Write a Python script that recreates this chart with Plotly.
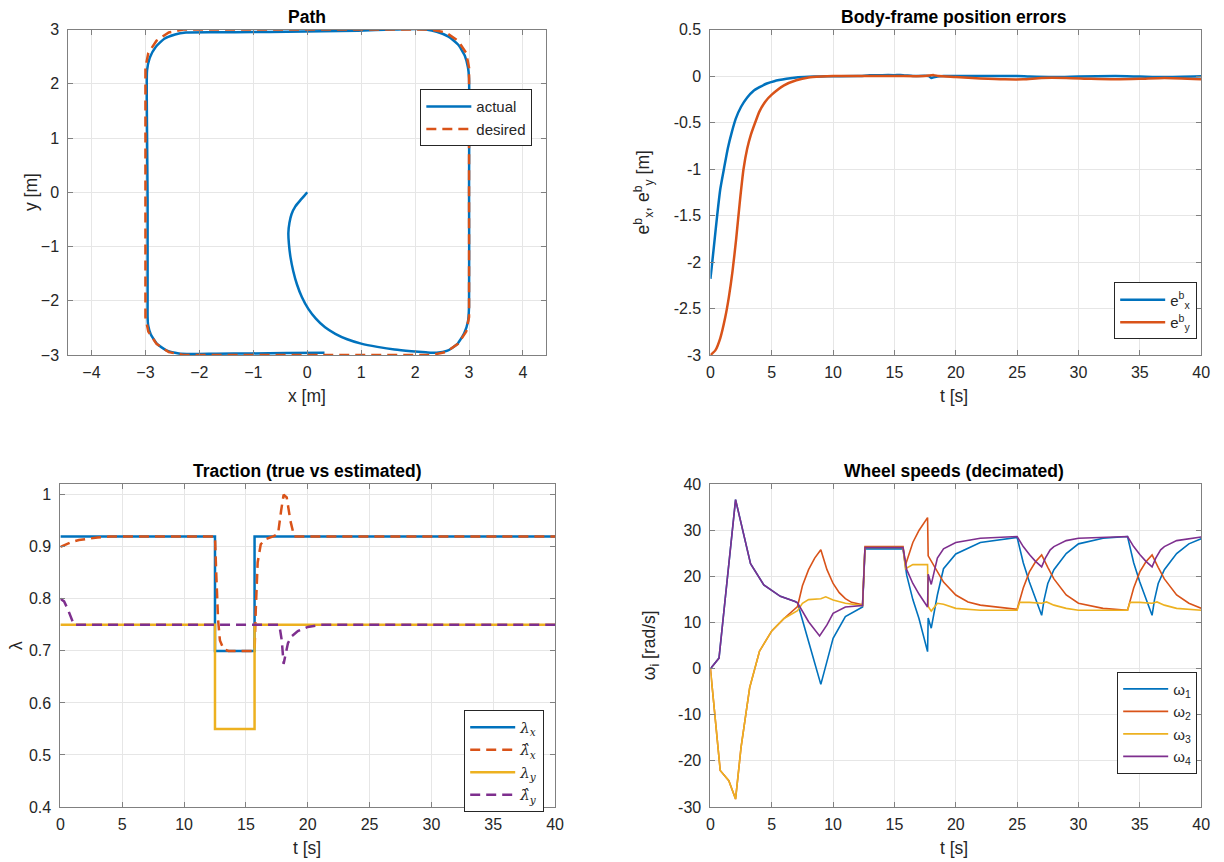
import plotly.graph_objects as go

# ---------------- data ----------------
# Path (actual)
path_act_x = [0.0, -0.06, -0.13, -0.22, -0.29, -0.33, -0.35, -0.34, -0.31, -0.26, -0.19, -0.10, 0.02, 0.16,
              0.33, 0.52, 0.74, 1.0, 1.3, 1.62, 1.93, 2.2, 2.4, 2.6, 2.78, 2.91, 2.98, 3.0, 3.0, 3.0, 2.98,
              2.92, 2.8, 2.62, 2.4, 2.2, 2.03, 1.6, 0.94, 0.28, -0.38, -1.0, -1.69, -2.25, -2.45, -2.65,
              -2.81, -2.92, -2.97, -2.97, -2.96, -2.96, -2.96, -2.96, -2.95, -2.9, -2.78, -2.6, -2.38,
              -2.15, -1.69, -1.03, -0.38, 0.32]
path_act_y = [0.0, -0.07, -0.15, -0.26, -0.4, -0.56, -0.75, -0.95, -1.2, -1.45, -1.7, -1.93, -2.15, -2.33,
              -2.49, -2.61, -2.71, -2.79, -2.85, -2.9, -2.93, -2.95, -2.96, -2.92, -2.8, -2.6, -2.38, -2.1,
              0.0, 2.1, 2.3, 2.52, 2.72, 2.87, 2.96, 3.0, 3.01, 3.0, 2.98, 2.97, 2.96, 2.955, 2.95, 2.945,
              2.91, 2.83, 2.68, 2.48, 2.25, 1.08, -0.15, -1.0, -2.0, -2.3, -2.45, -2.62, -2.8, -2.92,
              -2.97, -2.98, -2.975, -2.97, -2.965, -2.96]
# Path (desired)
path_des_x = [0.0, 2.3, 2.568, 2.795, 2.947, 3.0, 3.0, 2.947, 2.795, 2.568, 2.3, -2.3, -2.568, -2.795, -2.947,
              -3.0, -3.0, -2.947, -2.795, -2.568, -2.3, 0.3]
path_des_y = [-3.0, -3.0, -2.947, -2.795, -2.568, -2.3, 2.3, 2.568, 2.795, 2.947, 3.0, 3.0, 2.947, 2.795, 2.568,
              2.3, -2.3, -2.568, -2.795, -2.947, -3.0, -3.0]

# Body-frame errors
ex_t = [0, 0.15, 0.35, 0.55, 0.8, 1.1, 1.43, 1.75, 2.06, 2.5, 3.0, 3.5, 4.0, 4.6, 5.2, 6.2, 7, 8, 9, 10, 12,
        13, 14, 15, 15.7, 16.5, 17.8, 18.0, 18.3, 19, 22, 25, 26, 28, 30, 33, 35, 37, 40]
ex_v = [-2.18, -2.0, -1.75, -1.5, -1.22, -1.0, -0.77, -0.6, -0.46, -0.33, -0.23, -0.16, -0.12, -0.08, -0.055,
        -0.03, -0.015, -0.008, -0.004, -0.002, 0.0, 0.008, 0.01, 0.01, 0.01, 0.0, 0.0, -0.02, -0.01, 0.0, 0.0,
        0.0, -0.005, -0.01, -0.005, 0.0, -0.005, -0.01, -0.002]
ey_t = [0, 0.4, 0.8, 1.2, 1.5, 1.8, 2.1, 2.4, 2.7, 3.0, 3.3, 3.65, 4.0, 4.5, 5.0, 6.0, 7.0, 8.0, 9.0, 10, 15,
        17.5, 18.2, 18.6, 20, 22, 24, 25.5, 27, 29, 31, 33, 35, 37, 40]
ey_v = [-3.0, -2.95, -2.82, -2.6, -2.38, -2.1, -1.75, -1.35, -1.0, -0.78, -0.63, -0.5, -0.38, -0.27, -0.2,
        -0.1, -0.045, -0.015, -0.005, 0.0, 0.0, 0.0, 0.01, 0.0, -0.01, -0.025, -0.035, -0.035, -0.02, -0.02,
        -0.03, -0.035, -0.03, -0.02, -0.035]

# Traction
lx_t = [0, 12.5, 15.7, 40]
lx_v = [0.92, 0.70, 0.92, 0.92]
ly_t = [0, 12.5, 15.7, 40]
ly_v = [0.75, 0.55, 0.75, 0.75]
lxh_t = [0, 0.5, 1.0, 1.5, 2.0, 3.0, 4.0, 12.5, 12.6, 12.75, 12.9, 13.2, 13.6, 15.7, 15.8, 15.95, 16.2, 16.6,
         17.2, 17.6, 17.85, 18.05, 18.3, 18.6, 18.9, 40]
lxh_v = [0.90, 0.905, 0.91, 0.913, 0.915, 0.918, 0.92, 0.92, 0.85, 0.76, 0.72, 0.703, 0.70, 0.70, 0.78, 0.87,
         0.905, 0.915, 0.92, 0.925, 0.97, 1.0, 0.995, 0.95, 0.92, 0.92]
lyh_t = [0, 0.3, 0.6, 0.9, 1.1, 17.7, 17.9, 18.05, 18.2, 18.4, 18.7, 19.2, 20, 21, 40]
lyh_v = [0.80, 0.795, 0.78, 0.76, 0.75, 0.75, 0.72, 0.675, 0.69, 0.715, 0.728, 0.738, 0.746, 0.75, 0.75]

# Wheel speeds
w1_t = [0, 0.7, 2.05, 3.27, 4.35, 5.7, 6.9, 7.1, 8, 9, 9.5, 10, 11, 12.4, 12.6, 15.7, 16.0, 16.5, 17.0, 17.7,
        17.75, 18.0, 18.5, 19, 20, 22, 25, 25.5, 26, 26.5, 27, 27.2, 27.5, 28, 29, 30, 32, 34, 34.5, 35, 35.5,
        36, 36.2, 36.5, 37, 38, 39, 40]
w1_v = [0, 2.3, 36.7, 22.8, 18.2, 15.7, 14.6, 14.3, 5.9, -3.4, 1.6, 6.6, 11.3, 13.4, 26.0, 26.0, 20.3, 15.0,
        10.9, 3.7, 11.0, 8.8, 16.0, 21.7, 24.9, 27.4, 28.5, 23.0, 18.8, 15.0, 11.6, 15.0, 18.5, 21.5, 25.0,
        27.1, 28.3, 28.7, 23.0, 18.8, 15.0, 11.6, 15.0, 18.5, 21.5, 25.0, 27.1, 28.2]
w2_t = [0, 0.8, 1.5, 2.05, 2.5, 3.2, 4, 5, 6, 7.1, 7.5, 8, 8.5, 9, 9.5, 10, 10.5, 11, 11.5, 12.4, 12.6, 15.7,
        15.9, 16.5, 17, 17.7, 17.75, 18.5, 19, 20, 21, 22, 24, 25, 25.5, 26, 26.5, 27, 27.5, 28, 29, 30, 32,
        34, 34.5, 35, 35.5, 36, 36.5, 37, 38, 39, 40]
w2_v = [0, -22.1, -24.3, -28.3, -17, -4.1, 3.8, 8.2, 10.9, 13.5, 18.0, 21.5, 24.0, 25.8, 21.5, 18.5, 16.5,
        15.2, 14.4, 13.9, 26.5, 26.5, 22.5, 27.4, 30.0, 32.8, 24.5, 21.0, 18.8, 16.0, 14.5, 13.8, 13.1, 12.9,
        17.5, 21.0, 23.2, 24.7, 22.0, 19.5, 16.0, 14.2, 13.1, 12.7, 17.5, 21.0, 23.2, 24.7, 22.0, 19.5, 16.0,
        14.2, 13.1]
w3_t = [0, 0.8, 1.5, 2.05, 2.5, 3.2, 4, 5, 6, 7.1, 7.5, 8, 9, 9.4, 10, 11, 12.4, 12.6, 15.7, 15.9, 16.5, 17.7,
        17.75, 18.0, 18.5, 19, 20, 22, 25, 25.2, 26, 27, 27.4, 28, 29, 30, 34, 34.2, 35, 36, 36.4, 37, 38, 40]
w3_v = [0, -22.1, -24.3, -28.3, -17, -4.1, 3.8, 8.2, 10.9, 12.6, 14.2, 15.0, 15.2, 15.6, 14.9, 14.2, 13.7,
        26.3, 26.3, 21.7, 22.6, 22.6, 13.5, 12.5, 14.2, 14.0, 13.1, 12.7, 12.7, 14.4, 14.4, 14.2, 14.5, 13.8,
        13.1, 12.7, 12.7, 14.4, 14.4, 14.2, 14.5, 13.8, 13.1, 12.7]
w4_t = [0, 0.7, 2.05, 3.27, 4.35, 5.7, 6.9, 7.1, 8, 8.9, 9.5, 10, 11, 12.4, 12.6, 15.7, 16.0, 16.5, 17.0, 17.7,
        17.75, 18.0, 18.5, 19, 20, 22, 25, 25.5, 26, 26.5, 27, 27.3, 27.7, 28, 29, 30, 34, 34.5, 35, 35.5, 36,
        36.3, 36.7, 37, 38, 40]
w4_v = [0, 2.3, 36.7, 22.8, 18.2, 15.7, 14.6, 14.3, 10.2, 7.1, 9.5, 12.0, 13.4, 13.7, 26.3, 26.3, 21.5, 18.5,
        16.2, 13.4, 20.5, 18.3, 24.0, 26.0, 27.4, 28.3, 28.7, 26.5, 24.8, 23.3, 22.1, 24.0, 25.8, 26.5, 27.8,
        28.3, 28.7, 26.5, 24.8, 23.3, 22.1, 24.0, 25.8, 26.5, 27.8, 28.6]

# ---------------- style ----------------
C1, C2, C3, C4 = "#0072BD", "#D95319", "#EDB120", "#7E2F8E"
FONT = "Liberation Sans, Arial, Helvetica, sans-serif"
DASH = "10px,6px"
W = 1224
H = 862


def px(x):
    return x / W


def py(y):
    return 1 - y / H


def lam(hat, sub):
    body = "λ̂" if hat else "λ"
    return ('<span style="font-family:DejaVu Serif"><i>' + body + '</i><sub><i>' + sub + '</i></sub></span>')


fig = go.Figure()

# Path
fig.add_trace(go.Scatter(x=path_act_x, y=path_act_y, mode="lines", name="actual",
                         line=dict(color=C1, width=2.5, shape="spline", smoothing=0.5),
                         xaxis="x", yaxis="y", legend="legend"))
fig.add_trace(go.Scatter(x=path_des_x, y=path_des_y, mode="lines", name="desired",
                         line=dict(color=C2, width=2.5, dash=DASH), xaxis="x", yaxis="y", legend="legend"))
# Errors
fig.add_trace(go.Scatter(x=ex_t, y=ex_v, mode="lines", name="e<sup>b</sup><sub>x</sub>",
                         line=dict(color=C1, width=2.5, shape="spline", smoothing=0.6),
                         xaxis="x2", yaxis="y2", legend="legend2"))
fig.add_trace(go.Scatter(x=ey_t, y=ey_v, mode="lines", name="e<sup>b</sup><sub>y</sub>",
                         line=dict(color=C2, width=2.5, shape="spline", smoothing=0.6),
                         xaxis="x2", yaxis="y2", legend="legend2"))
# Traction
fig.add_trace(go.Scatter(x=lx_t, y=lx_v, mode="lines", name=lam(False, "x"),
                         line=dict(color=C1, width=2.5, shape="hv"), xaxis="x3", yaxis="y3", legend="legend3"))
fig.add_trace(go.Scatter(x=lxh_t, y=lxh_v, mode="lines", name=lam(True, "x"),
                         line=dict(color=C2, width=2.5, dash=DASH), xaxis="x3", yaxis="y3", legend="legend3"))
fig.add_trace(go.Scatter(x=ly_t, y=ly_v, mode="lines", name=lam(False, "y"),
                         line=dict(color=C3, width=2.5, shape="hv"), xaxis="x3", yaxis="y3", legend="legend3"))
fig.add_trace(go.Scatter(x=lyh_t, y=lyh_v, mode="lines", name=lam(True, "y"),
                         line=dict(color=C4, width=2.5, dash=DASH), xaxis="x3", yaxis="y3", legend="legend3"))
# Wheel speeds
for tt, vv, c, n in [(w1_t, w1_v, C1, "ω<sub>1</sub>"), (w2_t, w2_v, C2, "ω<sub>2</sub>"),
                     (w3_t, w3_v, C3, "ω<sub>3</sub>"), (w4_t, w4_v, C4, "ω<sub>4</sub>")]:
    fig.add_trace(go.Scatter(x=tt, y=vv, mode="lines", name=n, line=dict(color=c, width=1.6),
                             xaxis="x4", yaxis="y4", legend="legend4"))

axis_common = dict(showline=True, linecolor="#808080", linewidth=1, mirror="ticks", ticks="inside",
                   ticklen=5, tickcolor="#808080", showgrid=True, gridcolor="#e6e6e6", gridwidth=1,
                   zeroline=False, tickfont=dict(family=FONT, size=16, color="#262626"))
xc = dict(axis_common, ticklabelstandoff=3)
yc = dict(axis_common, ticklabelstandoff=5)

top = [py(354), py(22)]
bot = [py(815), py(486)]
fig.update_layout(
    width=W, height=H, margin=dict(l=0, r=0, t=0, b=0), paper_bgcolor="white", plot_bgcolor="white",
    font=dict(family=FONT, color="#262626"),
    xaxis=dict(domain=[px(65), px(548)], range=[-4.43, 4.43], tickvals=[-4, -3, -2, -1, 0, 1, 2, 3, 4],
               anchor="y", **xc),
    yaxis=dict(domain=top, range=[-3, 3], tickvals=[-3, -2, -1, 0, 1, 2, 3], anchor="x", **yc),
    xaxis2=dict(domain=[px(714), px(1210)], range=[0, 40], tickvals=list(range(0, 41, 5)), anchor="y2", **xc),
    yaxis2=dict(domain=top, range=[-3, 0.5], tickvals=[-3, -2.5, -2, -1.5, -1, -0.5, 0, 0.5],
                ticktext=["-3", "-2.5", "-2", "-1.5", "-1", "-0.5", "0", "0.5"], anchor="x2", **yc),
    xaxis3=dict(domain=[px(57), px(557)], range=[0, 40], tickvals=list(range(0, 41, 5)), anchor="y3", **xc),
    yaxis3=dict(domain=bot, range=[0.4, 1.02], tickvals=[0.4, 0.5, 0.6, 0.7, 0.8, 0.9, 1.0],
                ticktext=["0.4", "0.5", "0.6", "0.7", "0.8", "0.9", "1"], anchor="x3", **yc),
    xaxis4=dict(domain=[px(714), px(1210)], range=[0, 40], tickvals=list(range(0, 41, 5)), anchor="y4", **xc),
    yaxis4=dict(domain=bot, range=[-30, 40], tickvals=list(range(-30, 41, 10)),
                ticktext=["-30", "-20", "-10", "0", "10", "20", "30", "40"], anchor="x4", **yc),
)

leg_common = dict(bgcolor="white", bordercolor="#262626", borderwidth=1,
                  font=dict(family=FONT, size=15, color="#262626"),
                  xanchor="right", yanchor="top", tracegroupgap=0, itemwidth=45)
fig.update_layout(
    legend=dict(x=px(534), y=py(83), **leg_common),
    legend2=dict(x=px(1206), y=py(280), **leg_common),
    legend3=dict(x=px(546), y=py(716), **leg_common),
    legend4=dict(x=px(1206), y=py(677), **leg_common),
)

ann = []
TF = dict(family=FONT, size=17.5, color="black")
LF = dict(family=FONT, size=17.5, color="#262626")
for x, y, t in [(306, 9, "<b>Path</b>"), (960, 9, "<b>Body-frame position errors</b>"),
                (306.5, 472, "<b>Traction (true vs estimated)</b>"), (960, 472, "<b>Wheel speeds (decimated)</b>")]:
    ann.append(dict(x=px(x), y=py(y), xref="paper", yref="paper", text=t, showarrow=False,
                    xanchor="center", yanchor="middle", font=TF))
for x, y, t in [(306, 396, "x [m]"), (960, 396, "t [s]"), (306.5, 857, "t [s]"), (960, 857, "t [s]")]:
    ann.append(dict(x=px(x), y=py(y), xref="paper", yref="paper", text=t, showarrow=False,
                    xanchor="center", yanchor="middle", font=LF))
for x, y, t in [(28, 188, "y [m]"), (646, 188, "e<sup>b</sup><sub>x</sub>, e<sup>b</sup><sub>y</sub> [m]"),
                (12, 650, "λ"), (653, 650, "ω<sub>i</sub> [rad/s]")]:
    ann.append(dict(x=px(x), y=py(y), xref="paper", yref="paper", text=t, showarrow=False, textangle=-90,
                    xanchor="center", yanchor="middle", font=LF))
fig.update_layout(annotations=ann)

PAGE_JS = ("var s=document.documentElement.style;s.margin='0';s.padding='0';s.overflow='hidden';"
           "var b=document.body.style;b.margin='0';b.padding='0';b.overflow='hidden';"
           "b.width='1224px';b.height='862px';")
fig.write_html("out.html", config={"displayModeBar": False}, post_script=PAGE_JS)
